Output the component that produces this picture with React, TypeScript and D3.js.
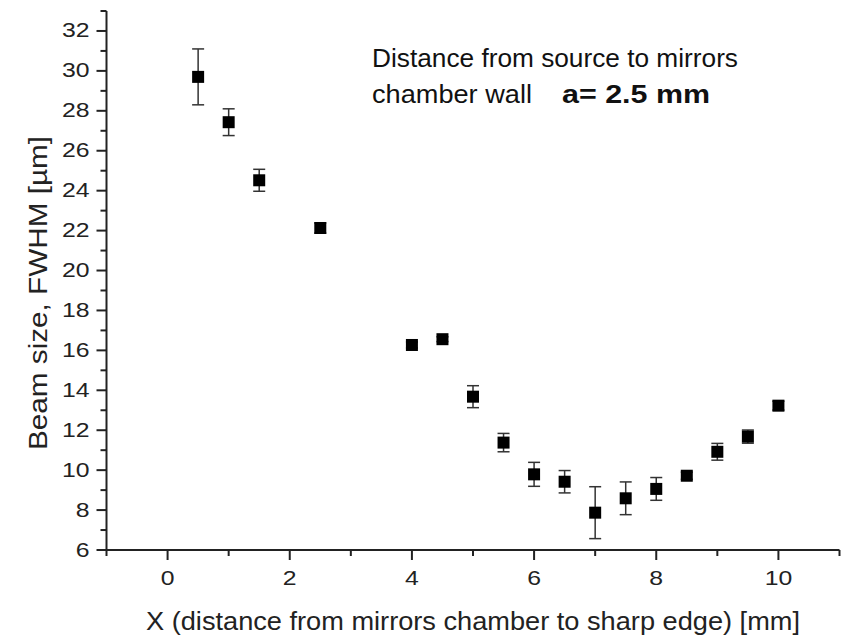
import React from "react";
import * as d3 from "d3";

// Beam size measurements vs. position of the sharp edge
const xPos = [0.5, 1, 1.5, 2.5, 4, 4.5, 5, 5.5, 6, 6.5, 7, 7.5, 8, 8.5, 9, 9.5, 10];
const beamSize = [29.7, 27.43, 24.52, 22.13, 16.27, 16.56, 13.68, 11.38, 9.79, 9.42, 7.87, 8.59, 9.06, 9.72, 10.92, 11.68, 13.23];
const beamErr = [1.4, 0.67, 0.55, 0.25, 0.15, 0.12, 0.55, 0.46, 0.6, 0.56, 1.3, 0.82, 0.57, 0.18, 0.42, 0.33, 0.22];

const xMajorTicks = [0, 2, 4, 6, 8, 10];
const xMinorTicks = [-1, 1, 3, 5, 7, 9, 11];
const yMajorTicks = [6, 8, 10, 12, 14, 16, 18, 20, 22, 24, 26, 28, 30, 32];
const yMinorTicks = [7, 9, 11, 13, 15, 17, 19, 21, 23, 25, 27, 29, 31, 33];

const W = 843;
const H = 637;
const FONT = "'Liberation Sans', Arial, sans-serif";
const STRETCH = 1.18; // wide sans face

function TickLabel({ x, y, anchor, children }: { x: number; y: number; anchor: string; children: React.ReactNode }) {
  return (
    <g transform={`translate(${x},${y}) scale(${STRETCH},1)`}>
      <text textAnchor={anchor} fontSize={21} fill="#222">
        {children}
      </text>
    </g>
  );
}

export default function App() {
  const x = d3.scaleLinear().domain([-1, 11]).range([106.5, 839.5]);
  const y = d3.scaleLinear().domain([6, 33]).range([550, 11]);
  const axisColor = "#222";
  const marker = 12;

  return (
    <svg
      width={W}
      height={H}
      style={{ position: "absolute", left: 0, top: 0, background: "#fff" }}
      fontFamily={FONT}
    >
      {/* axes */}
      <line x1={x(-1)} x2={x(-1)} y1={y(33)} y2={y(6) + 1} stroke={axisColor} strokeWidth={2} />
      <line x1={x(-1) - 1} x2={x(11)} y1={y(6)} y2={y(6)} stroke={axisColor} strokeWidth={2} />

      {yMajorTicks.map((t) => (
        <g key={`ym${t}`}>
          <line x1={x(-1) - 10} x2={x(-1)} y1={y(t)} y2={y(t)} stroke={axisColor} strokeWidth={2} />
          <TickLabel x={x(-1) - 17} y={y(t) + 6.5} anchor="end">
            {t}
          </TickLabel>
        </g>
      ))}
      {yMinorTicks.map((t) => (
        <line key={`yn${t}`} x1={x(-1) - 6} x2={x(-1)} y1={y(t)} y2={y(t)} stroke={axisColor} strokeWidth={2} />
      ))}
      {xMajorTicks.map((t) => (
        <g key={`xm${t}`}>
          <line x1={x(t)} x2={x(t)} y1={y(6)} y2={y(6) + 10} stroke={axisColor} strokeWidth={2} />
          <TickLabel x={x(t)} y={585} anchor="middle">
            {t}
          </TickLabel>
        </g>
      ))}
      {xMinorTicks.map((t) => (
        <line key={`xn${t}`} x1={x(t)} x2={x(t)} y1={y(6)} y2={y(6) + 6} stroke={axisColor} strokeWidth={2} />
      ))}

      {/* error bars */}
      {xPos.map((xv, i) => {
        const cx = x(xv);
        const top = y(beamSize[i] + beamErr[i]);
        const bot = y(beamSize[i] - beamErr[i]);
        return (
          <g key={`e${i}`} stroke="#333" strokeWidth={1.5}>
            <line x1={cx} x2={cx} y1={top} y2={bot} />
            <line x1={cx - 6} x2={cx + 6} y1={top} y2={top} />
            <line x1={cx - 6} x2={cx + 6} y1={bot} y2={bot} />
          </g>
        );
      })}

      {/* markers */}
      {xPos.map((xv, i) => (
        <rect
          key={`m${i}`}
          x={x(xv) - marker / 2}
          y={y(beamSize[i]) - marker / 2}
          width={marker}
          height={marker}
          fill="#000"
        />
      ))}

      {/* annotation */}
      <text x={372} y={67} fontSize={25} fill="#111" textLength={366} lengthAdjust="spacingAndGlyphs">
        Distance from source to mirrors
      </text>
      <text x={372} y={103} fontSize={25} fill="#111" textLength={160} lengthAdjust="spacingAndGlyphs">
        chamber wall
      </text>
      <text x={562} y={103} fontSize={25} fontWeight="bold" fill="#111" textLength={148} lengthAdjust="spacingAndGlyphs">
        a= 2.5 mm
      </text>

      {/* axis titles */}
      <text x={146} y={630} fontSize={25} fill="#222" textLength={654} lengthAdjust="spacingAndGlyphs">
        X (distance from mirrors chamber to sharp edge) [mm]
      </text>
      <text
        transform={`translate(47, 450) rotate(-90)`}
        fontSize={25}
        fill="#222"
        textLength={314}
        lengthAdjust="spacingAndGlyphs"
      >
        Beam size, FWHM [µm]
      </text>
    </svg>
  );
}
